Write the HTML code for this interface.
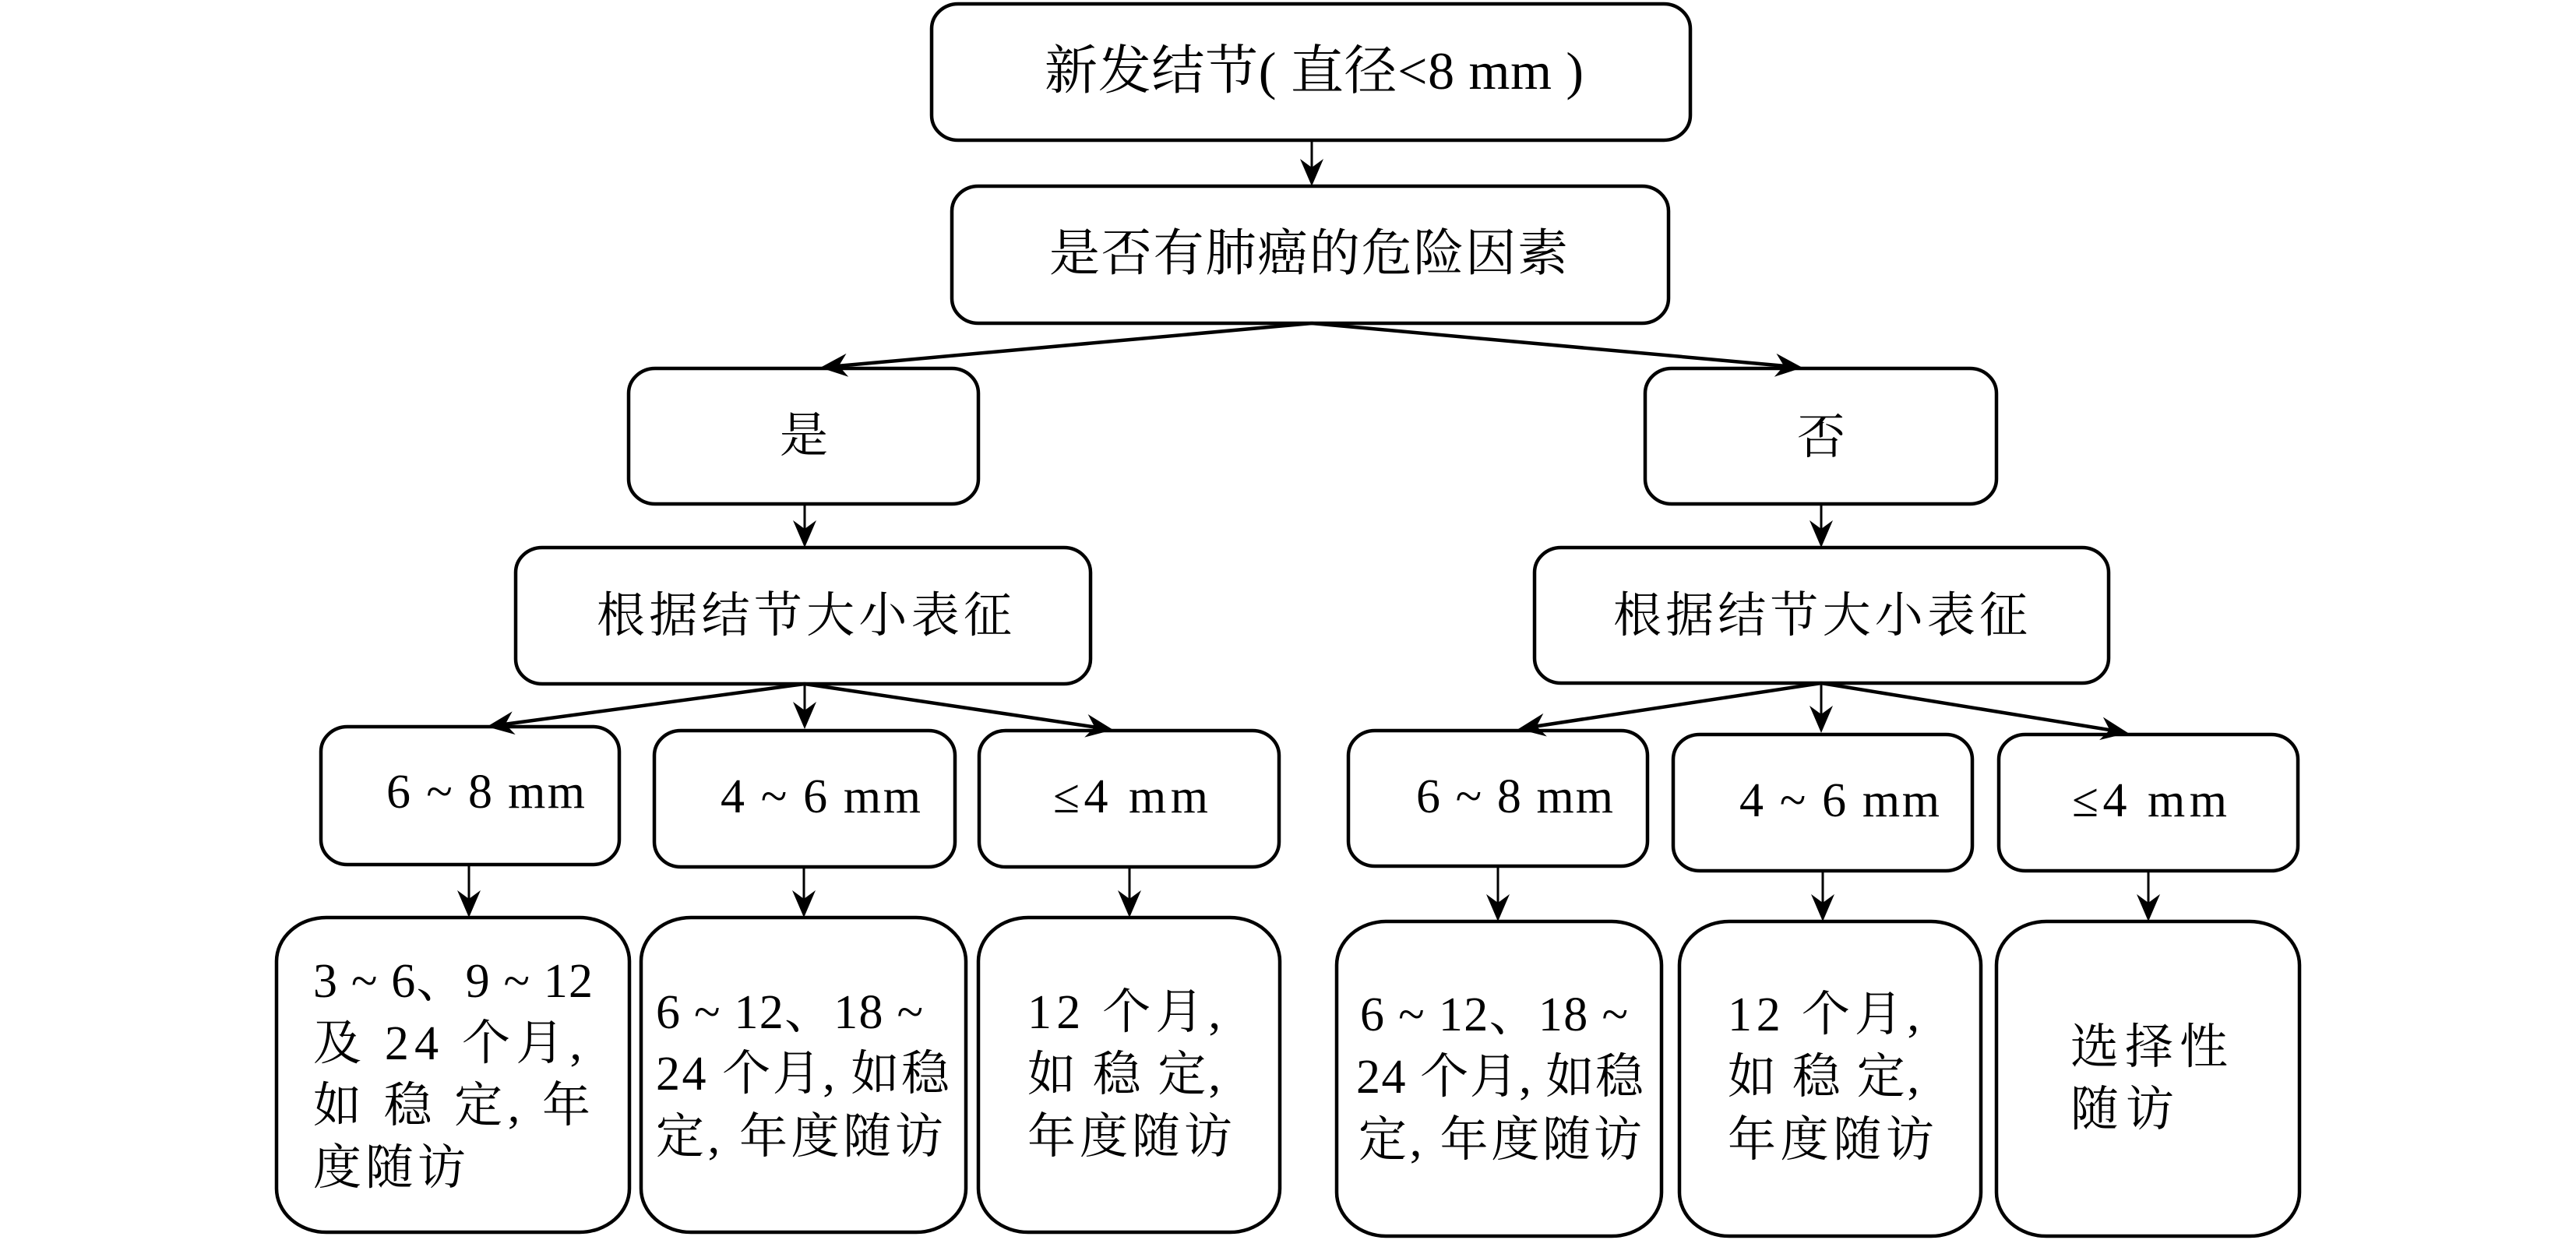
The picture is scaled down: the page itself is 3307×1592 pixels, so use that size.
<!DOCTYPE html>
<html>
<head>
<meta charset="utf-8">
<style>
  html, body { margin: 0; padding: 0; background: #fff; }
  svg { display: block; }
  text { font-family: "Liberation Serif", "Noto Serif CJK SC", serif; fill: #000; }
</style>
</head>
<body>
<svg width="3307" height="1592" viewBox="0 0 3307 1592" xmlns="http://www.w3.org/2000/svg">
  <defs>
    <marker id="a" markerUnits="userSpaceOnUse" markerWidth="40" markerHeight="34" viewBox="-14 -17 40 34" refX="0" refY="0" orient="auto" style="overflow:visible">
      <path d="M23,0 L-12,-15 L-1,0 L-12,15 Z" fill="#000"/>
    </marker>
  </defs>
  <rect width="3307" height="1592" fill="#fff"/>

  <!-- boxes -->
  <g fill="#fff" stroke="#000" stroke-width="4.5">
    <rect x="1196" y="5" width="974" height="175" rx="34" ry="32"/>
    <rect x="1222" y="239" width="920" height="176" rx="34" ry="32"/>
    <rect x="807" y="473" width="449" height="174" rx="34" ry="32"/>
    <rect x="2112" y="473" width="451" height="174" rx="34" ry="32"/>
    <rect x="662" y="703" width="738" height="175" rx="34" ry="32"/>
    <rect x="1970" y="703" width="737" height="174" rx="34" ry="32"/>

    <rect x="412" y="933" width="383" height="177" rx="34" ry="32"/>
    <rect x="840" y="938" width="386" height="175" rx="34" ry="32"/>
    <rect x="1257" y="938" width="385" height="175" rx="34" ry="32"/>
    <rect x="1731" y="938" width="384" height="174" rx="34" ry="32"/>
    <rect x="2148" y="943" width="384" height="175" rx="34" ry="32"/>
    <rect x="2566" y="943" width="384" height="175" rx="34" ry="32"/>

    <rect x="355" y="1178" width="453" height="404" rx="64" ry="56"/>
    <rect x="823" y="1178" width="417" height="404" rx="64" ry="56"/>
    <rect x="1256" y="1178" width="387" height="404" rx="64" ry="56"/>
    <rect x="1716" y="1183" width="417" height="404" rx="64" ry="56"/>
    <rect x="2156" y="1183" width="387" height="404" rx="64" ry="56"/>
    <rect x="2563" y="1183" width="389" height="404" rx="64" ry="56"/>
  </g>

  <!-- connectors -->
  <g stroke="#000" fill="none">
    <line x1="1684" y1="180" x2="1684" y2="216" stroke-width="3" marker-end="url(#a)"/>
    <line x1="1684" y1="415" x2="1075.9" y2="469.9" stroke-width="4.5" marker-end="url(#a)"/>
    <line x1="1684" y1="415" x2="2291.1" y2="469.9" stroke-width="4.5" marker-end="url(#a)"/>
    <line x1="1033" y1="647" x2="1033" y2="680" stroke-width="3" marker-end="url(#a)"/>
    <line x1="2338" y1="647" x2="2338" y2="680" stroke-width="3" marker-end="url(#a)"/>

    <line x1="1033" y1="878" x2="647.8" y2="929.9" stroke-width="4.5" marker-end="url(#a)"/>
    <line x1="1033" y1="878" x2="1033" y2="913" stroke-width="3" marker-end="url(#a)"/>
    <line x1="1033" y1="878" x2="1406.3" y2="933.6" stroke-width="4.5" marker-end="url(#a)"/>

    <line x1="2338" y1="877" x2="1971.7" y2="932.5" stroke-width="4.5" marker-end="url(#a)"/>
    <line x1="2338" y1="877" x2="2338" y2="918" stroke-width="3" marker-end="url(#a)"/>
    <line x1="2338" y1="877" x2="2709.3" y2="937.3" stroke-width="4.5" marker-end="url(#a)"/>

    <line x1="602" y1="1110" x2="602" y2="1155" stroke-width="3" marker-end="url(#a)"/>
    <line x1="1032" y1="1113" x2="1032" y2="1155" stroke-width="3" marker-end="url(#a)"/>
    <line x1="1450" y1="1113" x2="1450" y2="1155" stroke-width="3" marker-end="url(#a)"/>
    <line x1="1923" y1="1112" x2="1923" y2="1160" stroke-width="3" marker-end="url(#a)"/>
    <line x1="2340" y1="1118" x2="2340" y2="1160" stroke-width="3" marker-end="url(#a)"/>
    <line x1="2758" y1="1118" x2="2758" y2="1160" stroke-width="3" marker-end="url(#a)"/>
  </g>

  <!-- texts -->
  <text x="1341" y="114" font-size="68" textLength="692" lengthAdjust="spacing">新发结节( 直径&lt;8 mm )</text>
  <text x="1347" y="347" font-size="65" textLength="666" lengthAdjust="spacing">是否有肺癌的危险因素</text>
  <text x="1032" y="580" font-size="62" text-anchor="middle">是</text>
  <text x="2338" y="582" font-size="62" text-anchor="middle">否</text>
  <text x="766" y="811" font-size="62" textLength="533" lengthAdjust="spacing">根据结节大小表征</text>
  <text x="2071" y="811" font-size="62" textLength="532" lengthAdjust="spacing">根据结节大小表征</text>

  <text x="496" y="1037" font-size="62" textLength="255" lengthAdjust="spacing">6 ~ 8 mm</text>
  <text x="925" y="1043" font-size="62" textLength="257" lengthAdjust="spacing">4 ~ 6 mm</text>
  <text x="1352" y="1043" font-size="62" textLength="199" lengthAdjust="spacing">≤4 mm</text>
  <text x="1818" y="1043" font-size="62" textLength="253" lengthAdjust="spacing">6 ~ 8 mm</text>
  <text x="2233" y="1048" font-size="62" textLength="257" lengthAdjust="spacing">4 ~ 6 mm</text>
  <text x="2660" y="1048" font-size="62" textLength="199" lengthAdjust="spacing">≤4 mm</text>

  <!-- bottom A -->
  <text x="402" y="1280" font-size="62" textLength="359" lengthAdjust="spacing">3 ~ 6、9 ~ 12</text>
  <text x="402" y="1360" font-size="62" textLength="345" lengthAdjust="spacing">及 24 个月,</text>
  <text x="402" y="1440" font-size="62" textLength="356" lengthAdjust="spacing">如 稳 定, 年</text>
  <text x="402" y="1520" font-size="62" textLength="196" lengthAdjust="spacing">度随访</text>

  <!-- bottom B -->
  <text x="842" y="1320" font-size="62" textLength="343" lengthAdjust="spacing">6 ~ 12、18 ~</text>
  <text x="842" y="1399" font-size="62" textLength="377" lengthAdjust="spacing">24 个月, 如稳</text>
  <text x="842" y="1480" font-size="62" textLength="369" lengthAdjust="spacing">定, 年度随访</text>

  <!-- bottom C -->
  <text x="1319" y="1320" font-size="62" textLength="248" lengthAdjust="spacing">12 个月,</text>
  <text x="1319" y="1400" font-size="62" textLength="248" lengthAdjust="spacing">如 稳 定,</text>
  <text x="1319" y="1480" font-size="62" textLength="263" lengthAdjust="spacing">年度随访</text>

  <!-- bottom D -->
  <text x="1746" y="1323" font-size="62" textLength="344" lengthAdjust="spacing">6 ~ 12、18 ~</text>
  <text x="1741" y="1403" font-size="62" textLength="369" lengthAdjust="spacing">24 个月, 如稳</text>
  <text x="1744" y="1484" font-size="62" textLength="364" lengthAdjust="spacing">定, 年度随访</text>

  <!-- bottom E -->
  <text x="2218" y="1323" font-size="62" textLength="246" lengthAdjust="spacing">12 个月,</text>
  <text x="2218" y="1403" font-size="62" textLength="246" lengthAdjust="spacing">如 稳 定,</text>
  <text x="2218" y="1484" font-size="62" textLength="265" lengthAdjust="spacing">年度随访</text>

  <!-- bottom F -->
  <text x="2658" y="1365" font-size="62" textLength="202" lengthAdjust="spacing">选择性</text>
  <text x="2658" y="1445" font-size="62" textLength="133" lengthAdjust="spacing">随访</text>
</svg>
</body>
</html>
